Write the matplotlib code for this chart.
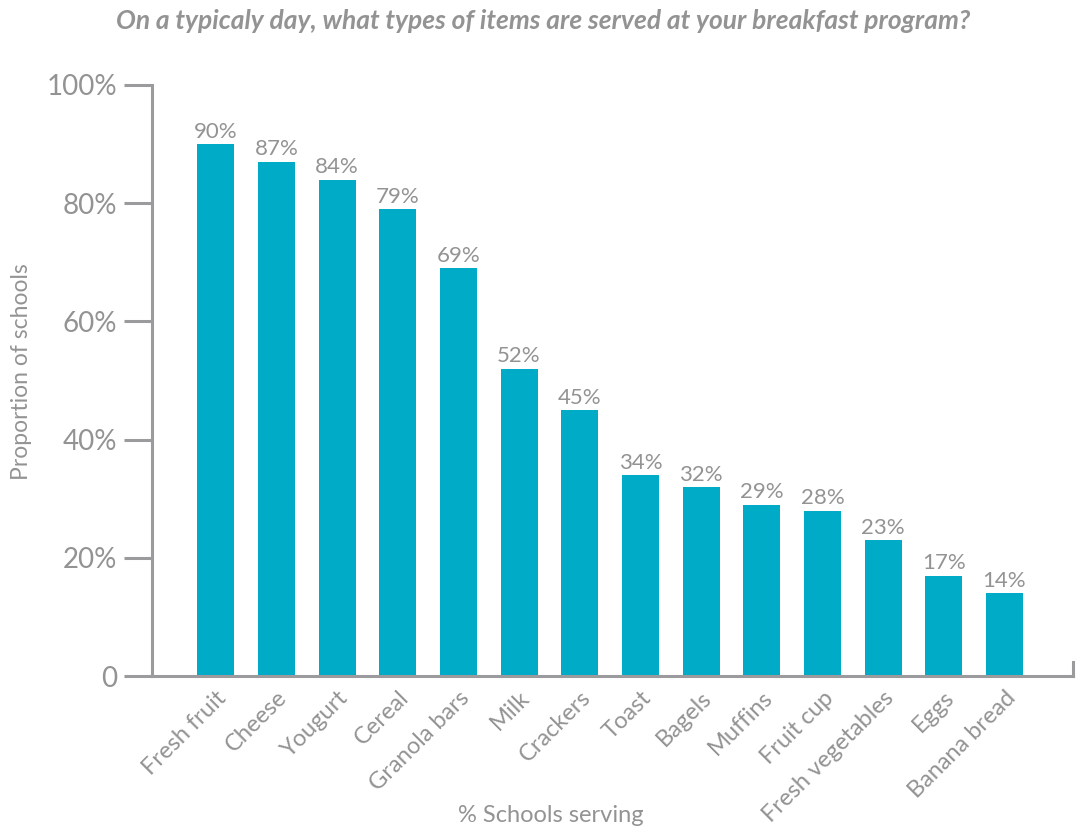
import numpy as np
import matplotlib.pyplot as plt

items = ['Fresh fruit', 'Cheese', 'Yougurt', 'Cereal', 'Granola bars', 'Milk',
         'Crackers', 'Toast', 'Bagels', 'Muffins', 'Fruit cup',
         'Fresh vegetables', 'Eggs', 'Banana bread']
pct = [90, 87, 84, 79, 69, 52, 45, 34, 32, 29, 28, 23, 17, 14]
yticks = [0, 20, 40, 60, 80, 100]
ytick_labels = ['0', '20%', '40%', '60%', '80%', '100%']

grey = '#939393'
axis_grey = '#9b9b9e'
bar_col = '#00abc7'

plt.rcParams['font.family'] = ['Lato', 'DejaVu Sans']

fig = plt.figure(figsize=(10.8, 8.3), dpi=100)
ax = fig.add_axes([0.1407, 0.1855, 0.8528, 0.7121])

x = np.arange(len(items))
ax.bar(x, pct, width=0.61, color=bar_col, zorder=2)
for xi, v in zip(x, pct):
    ax.text(xi, v + 0.4, f'{v}%', ha='center', va='bottom', fontsize=16, color=grey)

ax.set_xlim(-1.05, 14.13)
ax.set_ylim(0, 100)
ax.set_yticks(yticks)
ax.set_yticklabels(ytick_labels, fontsize=20, color=grey)
ax.tick_params(axis='y', length=20, width=2.2, color=axis_grey, pad=5)
ax.set_xticks(x)
ax.set_xticklabels(items, rotation=45, ha='right', rotation_mode='anchor',
                   fontsize=17, color=grey)
ax.tick_params(axis='x', length=0, pad=8)

ax.spines['top'].set_visible(False)
for s in ['left', 'bottom', 'right']:
    ax.spines[s].set_color(axis_grey)
    ax.spines[s].set_linewidth(2.2)
ax.spines['right'].set_bounds(0, 2.4)
ax.spines['bottom'].set_zorder(3)

ax.set_ylabel('Proportion of schools', fontsize=16.5, color=grey)
ax.yaxis.set_label_coords(-0.13, 0.515)
fig.text(0.51, 0.017, '% Schools serving', ha='center', va='center', fontsize=17, color=grey)

fig.text(0.503, 0.975, 'On a typicaly day, what types of items are served at your breakfast program?',
         ha='center', va='center', fontsize=19, color=grey, style='italic', fontweight='bold')

fig.savefig('out.png', dpi=100)
